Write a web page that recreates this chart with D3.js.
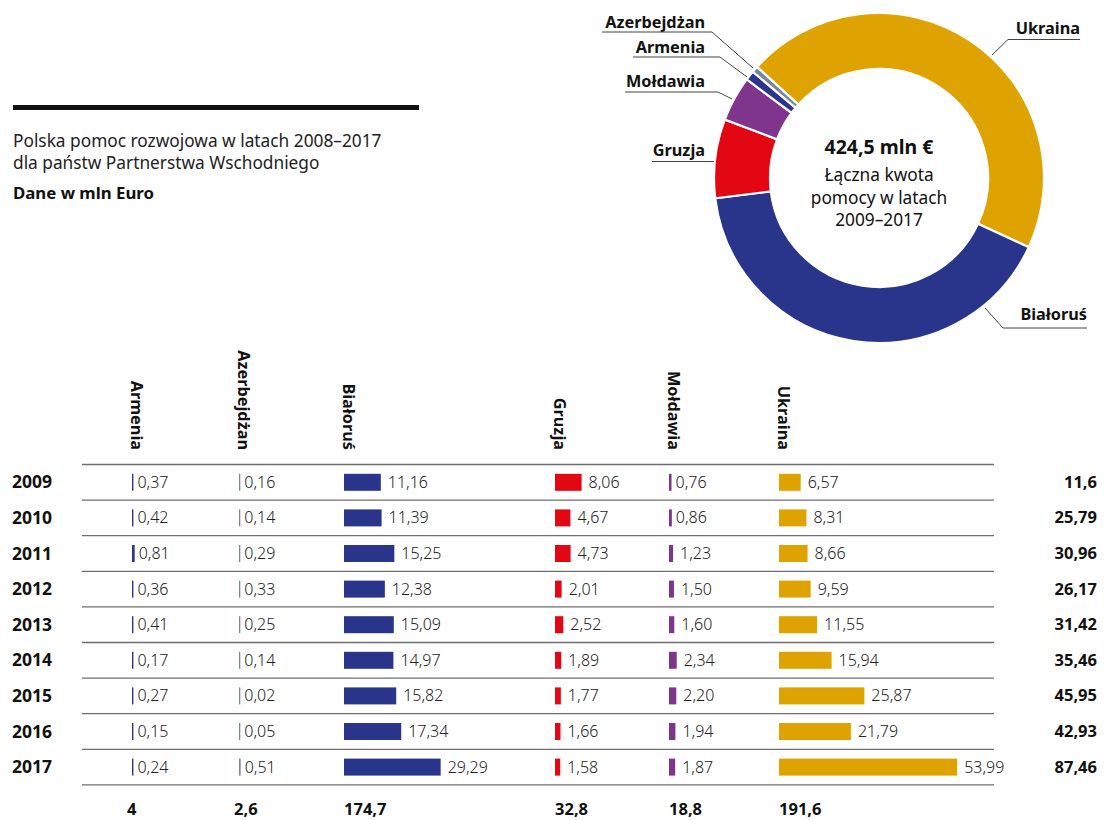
<!DOCTYPE html>
<html><head><meta charset="utf-8">
<script src="https://cdn.jsdelivr.net/npm/d3@7"></script>
<style>
html,body{margin:0;padding:0;background:#fff;}
svg{display:block;font-family:"Noto Sans",sans-serif;}
</style></head>
<body>
<svg id="c" width="1112" height="820"></svg>
<script>
// ---- data ----
const years = [2009, 2010, 2011, 2012, 2013, 2014, 2015, 2016, 2017];
const countries = ["Armenia", "Azerbejdżan", "Białoruś", "Gruzja", "Mołdawia", "Ukraina"];
const armenia = [0.37, 0.42, 0.81, 0.36, 0.41, 0.17, 0.27, 0.15, 0.24];
const azerbejdzan = [0.16, 0.14, 0.29, 0.33, 0.25, 0.14, 0.02, 0.05, 0.51];
const bialorus = [11.16, 11.39, 15.25, 12.38, 15.09, 14.97, 15.82, 17.34, 29.29];
const gruzja = [8.06, 4.67, 4.73, 2.01, 2.52, 1.89, 1.77, 1.66, 1.58];
const moldawia = [0.76, 0.86, 1.23, 1.50, 1.60, 2.34, 2.20, 1.94, 1.87];
const ukraina = [6.57, 8.31, 8.66, 9.59, 11.55, 15.94, 25.87, 21.79, 53.99];
const rowTotals = [11.6, 25.79, 30.96, 26.17, 31.42, 35.46, 45.95, 42.93, 87.46];
const colTotals = [4, 2.6, 174.7, 32.8, 18.8, 191.6];
const donutOrder = ["Ukraina", "Białoruś", "Gruzja", "Mołdawia", "Armenia", "Azerbejdżan"];
const grandTotal = "424,5 mln €";
const centerLines = ["Łączna kwota", "pomocy w latach", "2009–2017"];
const titleLines = ["Polska pomoc rozwojowa w latach 2008–2017", "dla państw Partnerstwa Wschodniego"];
const unitLabel = "Dane w mln Euro";

// ---- style ----
const colors = {
  "Armenia": "#2a3590", "Azerbejdżan": "#7886a6", "Białoruś": "#29348b",
  "Gruzja": "#e30613", "Mołdawia": "#7f358b", "Ukraina": "#dea300"
};
const series = [armenia, azerbejdzan, bialorus, gruzja, moldawia, ukraina];
const fmt2 = v => d3.format(".2f")(v).replace(".", ",");
const fmtT = v => String(+v.toFixed(2)).replace(".", ",");

const svg = d3.select("#c");

// ---- header block ----
svg.append("rect").attr("x", 13).attr("y", 105).attr("width", 406).attr("height", 5).attr("fill", "#111");
svg.append("g").selectAll("text").data(titleLines).join("text")
  .attr("x", 13).attr("y", (d, i) => 147 + i * 22)
  .attr("font-size", 17.3).attr("fill", "#222").text(d => d);
svg.append("text").attr("x", 13).attr("y", 199).attr("font-size", 16.8)
  .attr("font-weight", "bold").attr("fill", "#111").text(unitLabel);

// ---- table ----
const colX = d3.scaleOrdinal().domain(countries).range([132, 239, 344, 555, 669, 779]);
const w = d3.scaleLinear().domain([0, 1]).range([0, 3.3]);
const y = d3.scaleBand().domain(years).range([464.5, 464.5 + 35.6 * years.length]).paddingInner(0).paddingOuter(0);
const barH = 17;

const tbl = svg.append("g");
tbl.selectAll("line.row").data([null, ...years]).join("line")
  .attr("x1", 82).attr("x2", 994)
  .attr("y1", (d, i) => 464.5 + i * y.bandwidth())
  .attr("y2", (d, i) => 464.5 + i * y.bandwidth())
  .attr("stroke", "#6e6e6e").attr("stroke-width", 1.3);

// headers
tbl.selectAll("text.hdr").data(countries).join("text")
  .attr("transform", d => `translate(${colX(d) - 1},450) rotate(90)`)
  .attr("text-anchor", "end").attr("font-size", 16.3).attr("font-weight", "bold")
  .attr("fill", "#111").text(d => d);

// year labels
tbl.selectAll("text.year").data(years).join("text")
  .attr("x", 12).attr("y", d => y(d) + y.bandwidth() / 2 + 6)
  .attr("font-size", 17.5).attr("font-weight", "bold").attr("fill", "#111").text(d => d);

// bars & values
countries.forEach((c, ci) => {
  const vals = series[ci];
  const g = tbl.append("g");
  const bw = v => Math.max(ci === 1 ? 1.3 : 1.4, w(v));
  g.selectAll("rect").data(vals).join("rect")
    .attr("x", colX(c)).attr("y", (v, i) => y(years[i]) + y.bandwidth() / 2 - barH / 2)
    .attr("width", v => bw(v)).attr("height", barH).attr("fill", colors[c]);
  g.selectAll("text").data(vals).join("text")
    .attr("x", v => colX(c) + bw(v) + (w(v) > 4 ? 7 : 4))
    .attr("y", (v, i) => y(years[i]) + y.bandwidth() / 2 + 5.5)
    .attr("font-size", 16).attr("font-weight", 300).attr("fill", "#222").text(v => fmt2(v));
});

// row totals
tbl.selectAll("text.rt").data(rowTotals).join("text")
  .attr("x", 1097).attr("y", (v, i) => y(years[i]) + y.bandwidth() / 2 + 5.5)
  .attr("text-anchor", "end").attr("font-size", 16.5).attr("font-weight", "bold")
  .attr("fill", "#111").text(v => fmtT(v));

// column totals
tbl.selectAll("text.ct").data(colTotals).join("text")
  .attr("x", (v, i) => colX(countries[i]) - (i < 2 ? 5 : 0)).attr("y", 815)
  .attr("font-size", 16.5).attr("font-weight", "bold").attr("fill", "#111").text(v => fmtT(v));

// ---- donut ----
const cx = 879, cy = 178, R = 165, r0 = 109;
const donutVals = donutOrder.map(c => colTotals[countries.indexOf(c)]);
const pie = d3.pie().sort(null).value(d => d.v)
  .startAngle(-47.7 * Math.PI / 180).endAngle((360 - 47.7) * Math.PI / 180);
const arcs = pie(donutOrder.map((c, i) => ({ c, v: donutVals[i] })));
const arc = d3.arc().innerRadius(r0).outerRadius(R);
const dg = svg.append("g").attr("transform", `translate(${cx},${cy})`);
dg.selectAll("path").data(arcs).join("path")
  .attr("d", arc).attr("fill", d => colors[d.data.c])
  .attr("stroke", "#fff").attr("stroke-width", 2.2);

// center text
dg.append("text").attr("y", -24).attr("text-anchor", "middle")
  .attr("font-size", 19.5).attr("font-weight", "bold").attr("fill", "#111").text(grandTotal);
dg.selectAll("text.cl").data(centerLines).join("text")
  .attr("y", (d, i) => 3 + i * 22.5).attr("text-anchor", "middle")
  .attr("font-size", 17.3).attr("fill", "#111").text(d => d);

// labels with leaders
const labelCfg = {
  "Ukraina":     { tx: 1080, ty: 34, ux1: 1008, ux2: 1080, uy: 39.5, lx: 992, ly: 55 },
  "Białoruś":    { tx: 1087, ty: 320, ux1: 1003, ux2: 1087, uy: 328, lx: 985, ly: 308 },
  "Azerbejdżan": { tx: 705, ty: 28, ux1: 602, ux2: 712, uy: 32, lx: 753, ly: 68 },
  "Armenia":     { tx: 705, ty: 53, ux1: 633, ux2: 720, uy: 57, lx: 747, ly: 77 },
  "Mołdawia":    { tx: 705, ty: 87, ux1: 625, ux2: 718, uy: 92, lx: 732, ly: 99 },
  "Gruzja":      { tx: 705, ty: 156, ux1: 652, ux2: 714, uy: 161.5, lx: 714, ly: 161.5 }
};
const lg = svg.append("g");
donutOrder.forEach(c => {
  const L = labelCfg[c];
  lg.append("text").attr("x", L.tx).attr("y", L.ty).attr("text-anchor", "end")
    .attr("font-size", 16.3).attr("font-weight", "bold").attr("fill", "#111").text(c);
  const innerX = (L.lx < L.ux1) ? L.ux1 : L.ux2;
  const outerX = (L.lx < L.ux1) ? L.ux2 : L.ux1;
  lg.append("polyline")
    .attr("points", `${outerX},${L.uy} ${innerX},${L.uy} ${L.lx},${L.ly}`)
    .attr("fill", "none").attr("stroke", "#444").attr("stroke-width", 1);
});
</script>
</body></html>
